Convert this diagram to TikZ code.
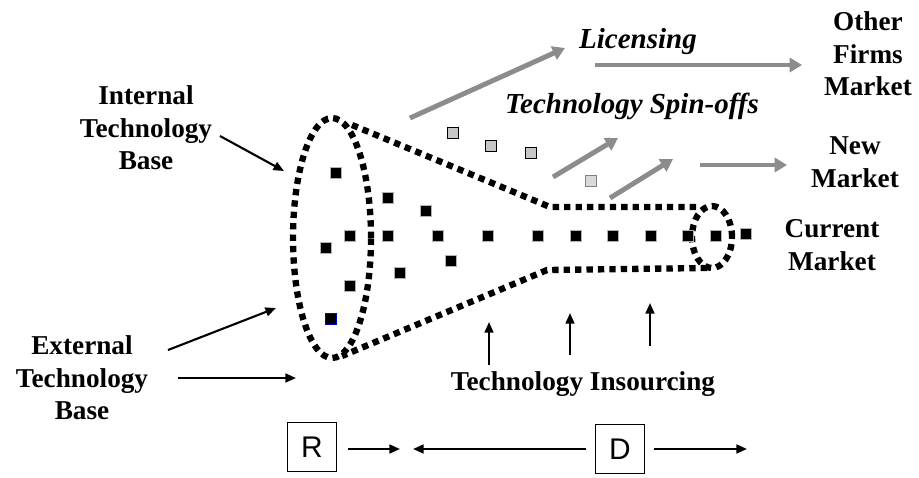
\documentclass[tikz,border=0pt]{standalone}
\usepackage{fontspec}
\setmainfont{Liberation Serif}
\newfontfamily\arialfont{Liberation Sans}
\usetikzlibrary{arrows.meta,positioning}

\begin{document}
\begin{tikzpicture}[x=0.02cm, y=-0.02cm,
    lbl/.style = {font=\fontsize{15.5}{18.5}\selectfont\bfseries, align=center, inner sep=0pt},
    ilbl/.style = {font=\fontsize{16.5}{18}\selectfont\bfseries\itshape, inner sep=0pt},
    tech/.style = {rectangle, fill=black, draw=gray!60, line width=0.7pt, minimum size=6.5pt, inner sep=0pt},
    spin/.style = {rectangle, fill=gray!45, draw=black, line width=0.7pt, minimum size=6.5pt, inner sep=0pt},
    funnel/.style = {line width=3.6pt, dash pattern=on 3.6pt off 2.9pt},
    flow/.style = {-{Triangle[length=7pt, width=8pt]}, line width=2.8pt, gray!90},
    push/.style = {-{Triangle[length=6pt, width=5pt]}, line width=1.2pt},
    stage/.style = {rectangle, draw, line width=0.6pt, minimum size=28pt, inner sep=0pt, font=\arialfont\fontsize{17}{17}\selectfont}]

    \useasboundingbox (0,0) rectangle (919,477);

    % funnel
    \draw[funnel] (332,238) ellipse [x radius=0.78cm, y radius=2.4cm];
    \draw[funnel] (352,125) -- (550,207) -- (697,207);
    \draw[funnel] (707,268) -- (547,270) -- (342,356);
    \draw[funnel] (712,237) ellipse [x radius=0.4cm, y radius=0.62cm];

    % technologies
    \node[tech] (t1) at (336,173) {};
    \node[tech] (t2) at (388,198) {};
    \node[tech] (t3) at (426,211) {};
    \node[tech] (t4) at (350,236) {};
    \node[tech] (t5) at (388,236) {};
    \node[tech] (t6) at (438,236) {};
    \node[tech] (t7) at (488,236) {};
    \node[tech] (t8) at (538,236) {};
    \node[tech] (t9) at (576,236) {};
    \node[tech] (t10) at (613,236) {};
    \node[tech] (t11) at (651,236) {};
    \node[tech] (t12) at (688,236) {};
    \node[tech] (t13) at (716,236) {};
    \node[tech] (t14) at (746,234) {};
    \node[tech] (t15) at (326,248) {};
    \node[tech] (t16) at (451,261) {};
    \node[tech] (t17) at (400,273) {};
    \node[tech] (t18) at (350,286) {};
    \node[tech, draw=blue!80!black] (t19) at (331,319) {};
    \node[spin] (s1) at (453,133) {};
    \node[spin] (s2) at (491,146) {};
    \node[spin] (s3) at (531,153) {};
    \node[spin, fill=gray!30, draw=gray] (s4) at (591,181) {};

    % labels
    \node[lbl] (internal) at (146,128) {Internal\\Technology\\Base};
    \node[lbl] (external) at (82,378) {External\\Technology\\Base};
    \node[lbl] (other) at (868,54) {Other\\Firms\\Market};
    \node[lbl] (new) at (855,162) {New\\Market};
    \node[lbl] (current) at (832,245) {Current\\Market};
    \node[ilbl] (licensing) at (638,42) {Licensing};
    \node[ilbl] (spinoffs) at (632,106) {Technology Spin-offs};
    \node[lbl] (insourcing) at (583,384) {Technology Insourcing};
    \node[stage] (r) at (312,447) {R};
    \node[stage] (d) at (620,449) {D};

    % outflows
    \coordinate (l0) at (410,118);
    \coordinate (l1) at (565,48);
    \coordinate (l2) at (595,65);
    \coordinate (l3) at (802,65);
    \coordinate (a0) at (553,177);
    \coordinate (a1) at (618,138);
    \coordinate (b0) at (610,198);
    \coordinate (b1) at (673,159);
    \coordinate (n0) at (700,165);
    \coordinate (n1) at (787,165);
    \draw[flow] (l0) -- (l1);
    \draw[flow] (l2) -- (l3);
    \draw[flow] (a0) -- (a1);
    \draw[flow] (b0) -- (b1);
    \draw[flow] (n0) -- (n1);

    % inflows
    \coordinate (i0) at (220,136);
    \coordinate (i1) at (284,171);
    \coordinate (e0) at (168,350);
    \coordinate (e1) at (276,308);
    \coordinate (e2) at (178,378);
    \coordinate (e3) at (296,378);
    \draw[push] (i0) -- (i1);
    \draw[push] (e0) -- (e1);
    \draw[push] (e2) -- (e3);
    \coordinate (u1) at (489,365);
    \coordinate (v1) at (489,322);
    \coordinate (u2) at (570,355);
    \coordinate (v2) at (570,313);
    \coordinate (u3) at (650,346);
    \coordinate (v3) at (650,303);
    \draw[push] (u1) -- (v1);
    \draw[push] (u2) -- (v2);
    \draw[push] (u3) -- (v3);

    % R and D
    \coordinate (r1) at (400,449);
    \coordinate (d0) at (413,449);
    \coordinate (d1) at (747,449);
    \draw[push, shorten <=6pt] (r.east |- r1) -- (r1);
    \draw[push, shorten <=5pt] (d.west) -- (d0);
    \draw[push, shorten <=5pt] (d.east) -- (d1);

\end{tikzpicture}
\end{document}
